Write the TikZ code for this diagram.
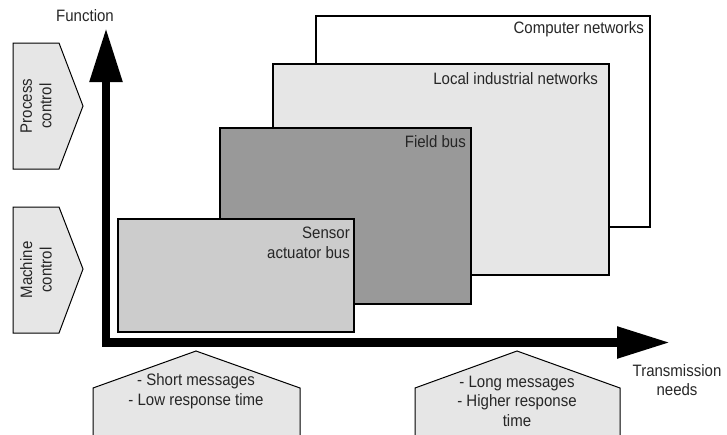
\documentclass[tikz,border=0pt]{standalone}
\usepackage{fontspec}
\setmainfont[FakeStretch=0.91]{Liberation Sans}
\usetikzlibrary{arrows.meta}
\definecolor{lightbox}{HTML}{E6E6E6}
\definecolor{midbox}{HTML}{CCCCCC}
\definecolor{darkbox}{HTML}{999999}
\begin{document}
\begin{tikzpicture}[x=1pt,y=-1pt,
  every node/.style={font=\fontsize{16.5}{19.5}\selectfont, inner sep=0pt, text=black!85},
  netbox/.style={draw=black, line width=2pt},
  tag/.style={draw=black, line width=1pt, fill=lightbox, line join=miter},
  lbl/.style={anchor=east, align=right},
  axis/.style={line width=8.5pt, line join=miter}
]
\useasboundingbox (0,0) rectangle (727,434);
\clip (0,0) rectangle (727,434);
% network boxes
\draw[netbox, fill=white] (316,16) rectangle (650,227);
\draw[netbox, fill=lightbox] (273,64) rectangle (609,275);
\draw[netbox, fill=darkbox] (220,128) rectangle (471,304);
\draw[netbox, fill=midbox] (118,219) rectangle (354,332);
\node[lbl] (lcn) at (644,29) {Computer networks};
\node[lbl] (lli) at (598,79) {Local industrial networks};
\node[lbl] (lfb) at (466,142) {Field bus};
\node[lbl] (lsa) at (350,243) {Sensor\\[1pt]actuator bus};
% side tags
\draw[tag] (13,43) -- (59,43) -- (83,106) -- (59,169) -- (13,169) -- cycle;
\draw[tag] (13,207) -- (59,207) -- (83,269) -- (59,333) -- (13,333) -- cycle;
\node[rotate=90, align=center] (pc) at (36,106) {Process\\control};
\node[rotate=90, align=center] (mc) at (36,270) {Machine\\control};
% bottom tags
\draw[tag] (93,440) -- (93,388) -- (196,351) -- (300,388) -- (300,440);
\draw[tag] (415,440) -- (415,388) -- (517,351) -- (620,388) -- (620,440);
\node[align=center] (sm) at (196,391) {- Short messages\\- Low response time};
\node[align=center] (lm) at (517,401) {- Long messages\\- Higher response\\time};
% axes
\coordinate (ytip) at (106,28);
\coordinate (orig) at (106,342.5);
\coordinate (xtip) at (670,342.5);
\draw[axis, {Triangle[length=54pt,width=31pt]}-{Triangle[length=53pt,width=30pt]}] (ytip) -- (orig) -- (xtip);
\node (fn) at (85,16) {Function};
\node[align=center] (tn) at (677,380) {Transmission\\needs};
\end{tikzpicture}
\end{document}
